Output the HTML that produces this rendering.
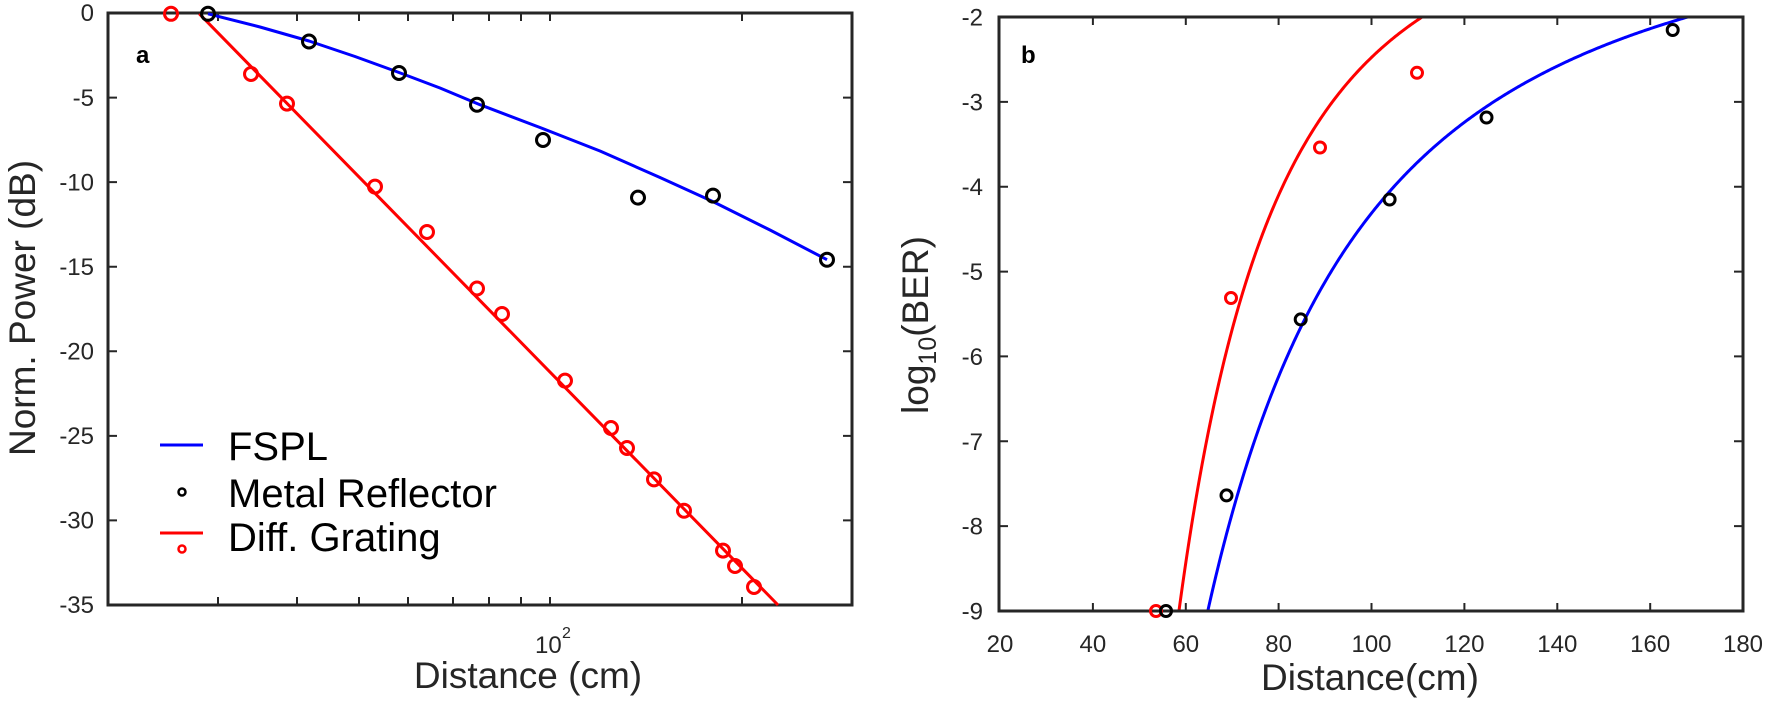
<!DOCTYPE html>
<html><head><meta charset="utf-8"><style>
html,body{margin:0;padding:0;background:#fff;}
svg{display:block;font-family:"Liberation Sans",Arial,sans-serif;}
</style></head><body>
<svg width="1768" height="722" viewBox="0 0 1768 722" xmlns="http://www.w3.org/2000/svg">
<rect width="1768" height="722" fill="#fff"/>
<!-- ===== Plot a ===== -->
<g stroke="#262626" stroke-width="2">
<path d="M108 13h9M108 97.6h9M108 182.1h9M108 266.7h9M108 351.3h9M108 435.9h9M108 520.4h9
M852 97.6h-9M852 182.1h-9M852 266.7h-9M852 351.3h-9M852 435.9h-9M852 520.4h-9"/>
<path d="M218 605v-8M297 605v-8M359 605v-8M408 605v-8M453 605v-8M489 605v-8M521 605v-8M550 605v-8M742 605v-8
M218 13v8M297 13v8M359 13v8M408 13v8M453 13v8M489 13v8M521 13v8M550 13v8M742 13v8"/>
</g>
<rect x="108" y="13" width="744" height="592" fill="none" stroke="#262626" stroke-width="3"/>
<g font-size="24" fill="#262626" text-anchor="end">
<text x="94" y="21">0</text><text x="94" y="106">-5</text><text x="94" y="190.5">-10</text>
<text x="94" y="275">-15</text><text x="94" y="359.5">-20</text><text x="94" y="444">-25</text>
<text x="94" y="528.5">-30</text><text x="94" y="613">-35</text>
</g>
<text x="535" y="653" font-size="24" fill="#262626">10</text>
<text x="562" y="638" font-size="16" fill="#262626">2</text>
<text x="528" y="688" font-size="37" fill="#262626" text-anchor="middle">Distance (cm)</text>
<text transform="translate(35,308) rotate(-90)" font-size="37" fill="#262626" text-anchor="middle">Norm. Power (dB)</text>
<text x="136" y="63" font-size="24" font-weight="bold" fill="#000">a</text>
<polyline points="199.3,13.8 778,605" fill="none" stroke="#f00" stroke-width="3"/>
<path d="M208,13.8 L260,27 L309,41 L355,56.5 L399,72.5 L440,88 L480,104.7 L540,127.5 L600,151 L660,177.5 L713,201.6 L770,230 L827,259.7" fill="none" stroke="#00f" stroke-width="3" stroke-linejoin="round"/>
<g fill="none" stroke="#f00" stroke-width="3">
<circle cx="171" cy="13.8" r="6.5"/><circle cx="251" cy="74" r="6.5"/><circle cx="287" cy="103.6" r="6.5"/>
<circle cx="375" cy="186.6" r="6.5"/><circle cx="427" cy="232" r="6.5"/><circle cx="477" cy="288.5" r="6.5"/>
<circle cx="502" cy="314" r="6.5"/><circle cx="565" cy="380.6" r="6.5"/><circle cx="611" cy="428" r="6.5"/>
<circle cx="627" cy="448" r="6.5"/><circle cx="654" cy="479.4" r="6.5"/><circle cx="684" cy="510.7" r="6.5"/>
<circle cx="723" cy="550.6" r="6.5"/><circle cx="735" cy="566" r="6.5"/><circle cx="754" cy="587" r="6.5"/>
</g>
<g fill="none" stroke="#000" stroke-width="3">
<circle cx="208" cy="13.8" r="6.5"/><circle cx="309" cy="41.5" r="6.5"/><circle cx="399" cy="73" r="6.5"/>
<circle cx="477" cy="104.7" r="6.5"/><circle cx="543" cy="140" r="6.5"/><circle cx="638" cy="197.6" r="6.5"/>
<circle cx="713" cy="195.6" r="6.5"/><circle cx="827" cy="259.7" r="6.5"/>
</g>
<line x1="160" y1="445" x2="203" y2="445" stroke="#00f" stroke-width="3"/>
<text x="228" y="460" font-size="40" fill="#000">FSPL</text>
<circle cx="182" cy="492" r="3.5" fill="none" stroke="#000" stroke-width="2.5"/>
<text x="228" y="507" font-size="40" fill="#000">Metal Reflector</text>
<line x1="160" y1="533" x2="203" y2="533" stroke="#f00" stroke-width="3"/>
<circle cx="182" cy="549" r="3.5" fill="none" stroke="#f00" stroke-width="2.5"/>
<text x="228" y="551" font-size="40" fill="#000">Diff. Grating</text>

<!-- ===== Plot b ===== -->
<g stroke="#262626" stroke-width="2">
<path d="M999 101.9h9M999 186.7h9M999 271.6h9M999 356.4h9M999 441.3h9M999 526.1h9
M1743 101.9h-9M1743 186.7h-9M1743 271.6h-9M1743 356.4h-9M1743 441.3h-9M1743 526.1h-9"/>
<path d="M1092.9 611v-8M1185.8 611v-8M1278.6 611v-8M1371.5 611v-8M1464.4 611v-8M1557.3 611v-8M1650.2 611v-8
M1092.9 17v8M1185.8 17v8M1278.6 17v8M1371.5 17v8M1464.4 17v8M1557.3 17v8M1650.2 17v8"/>
</g>
<g font-size="24" fill="#262626" text-anchor="end">
<text x="983" y="25.5">-2</text><text x="983" y="110.4">-3</text><text x="983" y="195.2">-4</text>
<text x="983" y="280.1">-5</text><text x="983" y="364.9">-6</text><text x="983" y="449.8">-7</text>
<text x="983" y="534.6">-8</text><text x="983" y="619.5">-9</text>
</g>
<g font-size="24" fill="#262626" text-anchor="middle">
<text x="1000" y="652">20</text><text x="1092.9" y="652">40</text><text x="1185.8" y="652">60</text>
<text x="1278.6" y="652">80</text><text x="1371.5" y="652">100</text><text x="1464.4" y="652">120</text>
<text x="1557.3" y="652">140</text><text x="1650.2" y="652">160</text><text x="1743" y="652">180</text>
</g>
<text x="1370" y="690" font-size="37" fill="#262626" text-anchor="middle">Distance(cm)</text>
<text transform="translate(928,325) rotate(-90)" font-size="37" fill="#262626" text-anchor="middle">log<tspan font-size="25" dy="8">10</tspan><tspan dy="-8">(BER)</tspan></text>
<text x="1021" y="63" font-size="24" font-weight="bold" fill="#000">b</text>
<defs><clipPath id="cb"><rect x="999" y="16" width="745" height="596"/></clipPath></defs>
<g clip-path="url(#cb)">
<path id="redc" d="M1174.5,611 L1188.6,530 L1202.8,460.8 L1228.2,322.6 L1253.7,230.4 L1304.7,147.5 L1355.7,92.2 L1392.5,46.1 L1424.7,17" fill="none" stroke="#f00" stroke-width="3"/>
<path id="bluec" d="M1208.4,611 L1233.9,460.8 L1260.5,391.7 L1299,322.6 L1341.5,253.5 L1386.8,199.5 L1432.1,152 L1474.6,117.5 L1525.5,83 L1610.5,46 L1683,17" fill="none" stroke="#00f" stroke-width="3"/>
</g>
<rect x="999" y="17" width="744" height="594" fill="none" stroke="#262626" stroke-width="3"/>
<g fill="none" stroke="#f00" stroke-width="3">
<circle cx="1156" cy="611" r="5.5"/><circle cx="1231" cy="298" r="5.5"/><circle cx="1320" cy="147.5" r="5.5"/><circle cx="1417" cy="72.8" r="5.5"/>
</g>
<g fill="none" stroke="#000" stroke-width="3">
<circle cx="1166" cy="611" r="5.5"/><circle cx="1226.5" cy="495.4" r="5.5"/><circle cx="1300.7" cy="319.4" r="5.5"/>
<circle cx="1389.6" cy="199.5" r="5.5"/><circle cx="1486.5" cy="117.5" r="5.5"/><circle cx="1672.7" cy="30" r="5.5"/>
</g>
</svg>
<script>
(function(){
  function lq(x){ // log10 of Gaussian Q-function (Borjesson approx)
    var a=0.339,b=5.51;
    var v=-x*x/2 - Math.log(((1-a)*x + a*Math.sqrt(x*x+b))*Math.sqrt(2*Math.PI));
    return v/Math.LN10;
  }
  function inv(t){var lo=0.1,hi=10;for(var i=0;i<80;i++){var m=(lo+hi)/2;if(lq(m)>t)lo=m;else hi=m;}return (lo+hi)/2;}
  var Q9=inv(-9),Q2=inv(-2);
  function X(d){return 999+(d-20)*744/160;}
  function Y(v){return 17+(-2-v)*594/7;}
  function build(d9,d2){
    var n=Math.log(Q9/Q2)/Math.log(d2/d9), s='';
    for(var d=d9-1;d<=d2+1;d+=0.25){
      var q=Q9*Math.pow(d9/d,n); var v=lq(q);
      s+=(s?' L':'M')+X(d).toFixed(2)+','+Y(v).toFixed(2);
    }
    return s;
  }
  document.getElementById('redc').setAttribute('d',build(58.7,111.0));
  document.getElementById('bluec').setAttribute('d',build(64.9,168.1));
})();
</script>
</body></html>
